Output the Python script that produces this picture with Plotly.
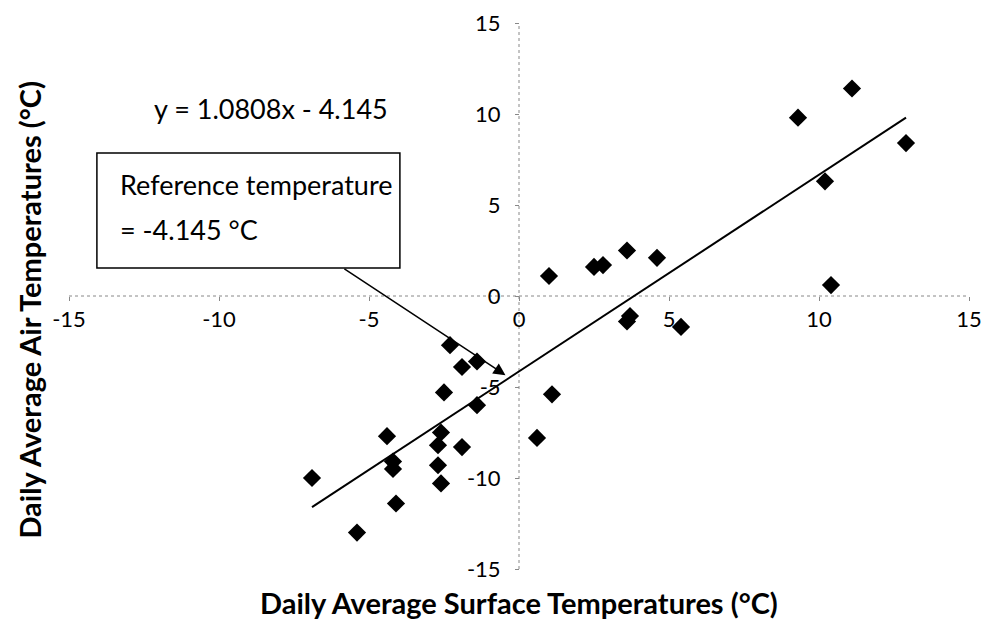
import plotly.graph_objects as go

# Data
surface_temp = [-6.9, -5.4, -4.4, -4.2, -4.2, -4.1, -2.7, -2.7, -2.6, -2.6, -2.5, -2.3,
                -1.9, -1.4, -1.9, -1.4, 0.6, 1.1, 1.0, 2.5, 2.8, 3.6, 4.6, 3.7, 3.6, 5.4,
                9.3, 11.1, 12.9, 10.2, 10.4]
air_temp = [-10.0, -13.0, -7.7, -9.1, -9.5, -11.4, -9.3, -8.2, -7.5, -10.3, -5.3, -2.7,
            -3.9, -3.6, -8.3, -6.0, -7.8, -5.4, 1.1, 1.6, 1.7, 2.5, 2.1, -1.1, -1.4, -1.7,
            9.8, 11.4, 8.4, 6.3, 0.6]
slope = 1.0808
intercept = -4.145
tick_vals = [-15, -10, -5, 0, 5, 10, 15]
tick_text = ["-15", "-10", "-5", "0", "5", "10", "15"]
x_title = "Daily Average Surface Temperatures (°C)"
y_title = "Daily Average Air Temperatures (°C)"
eq_text = "y = 1.0808x - 4.145"
box_lines = ["Reference temperature", "= -4.145 °C"]

FONT = "Lato"

fig = go.Figure()

x_min, x_max = min(surface_temp), max(surface_temp)
fig.add_trace(go.Scatter(
    x=[x_min, x_max], y=[slope * x_min + intercept, slope * x_max + intercept],
    mode="lines", line=dict(color="black", width=2), hoverinfo="skip", showlegend=False))

fig.add_trace(go.Scatter(
    x=surface_temp, y=air_temp, mode="markers",
    marker=dict(symbol="diamond", size=14, color="black"), showlegend=False))

# dotted axis lines through zero
fig.add_shape(type="line", x0=-15, x1=15, y0=0, y1=0, xref="x", yref="y",
              line=dict(color="#888", width=1, dash="dot"), layer="below")
fig.add_shape(type="line", x0=0, x1=0, y0=-15, y1=15, xref="x", yref="y",
              line=dict(color="#888", width=1, dash="dot"), layer="below")

# Reference box
fig.add_shape(type="rect", x0=-14.07, x1=-3.97, y0=1.54, y1=7.86, xref="x", yref="y",
              line=dict(color="black", width=1.5), fillcolor="white")
fig.add_annotation(x=-13.37, y=6.1, xref="x", yref="y", text=box_lines[0], showarrow=False,
                   xanchor="left", font=dict(family=FONT, size=27, color="black"))
fig.add_annotation(x=-13.37, y=3.65, xref="x", yref="y", text=box_lines[1], showarrow=False,
                   xanchor="left", font=dict(family=FONT, size=27, color="black"))
fig.add_annotation(x=-8.27, y=10.3, xref="x", yref="y", text=eq_text, showarrow=False,
                   font=dict(family=FONT, size=27, color="black"))

# arrow
fig.add_annotation(x=-0.45, y=-4.35, ax=-5.87, ay=1.54, xref="x", yref="y",
                   axref="x", ayref="y", text="", showarrow=True, arrowhead=2,
                   arrowsize=1.6, arrowwidth=1.5, arrowcolor="black")

# axis titles
fig.add_annotation(x=0.5, y=-0.062, xref="paper", yref="paper", text="<b>" + x_title + "</b>",
                   showarrow=False, yanchor="middle",
                   font=dict(family=FONT, size=29, color="black"))
fig.add_annotation(x=-0.044, y=0.474, xref="paper", yref="paper", text="<b>" + y_title + "</b>",
                   showarrow=False, textangle=-90, xanchor="center",
                   font=dict(family=FONT, size=29, color="black"))

axis_common = dict(range=[-15, 15], tickvals=tick_vals, ticktext=tick_text,
                   ticks="outside", ticklen=4, automargin=False,
                   tickcolor="#888", showgrid=False, zeroline=False, showline=False,
                   tickfont=dict(family=FONT, size=22, color="black"))
fig.update_xaxes(**axis_common, anchor="free", position=0.5)
fig.update_yaxes(**axis_common, anchor="free", position=0.5, ticklabelstandoff=10)

fig.update_layout(width=982, height=621, margin=dict(l=69, r=13, t=23, b=52),
                  plot_bgcolor="white", paper_bgcolor="white")

fig.write_html("out.html")
